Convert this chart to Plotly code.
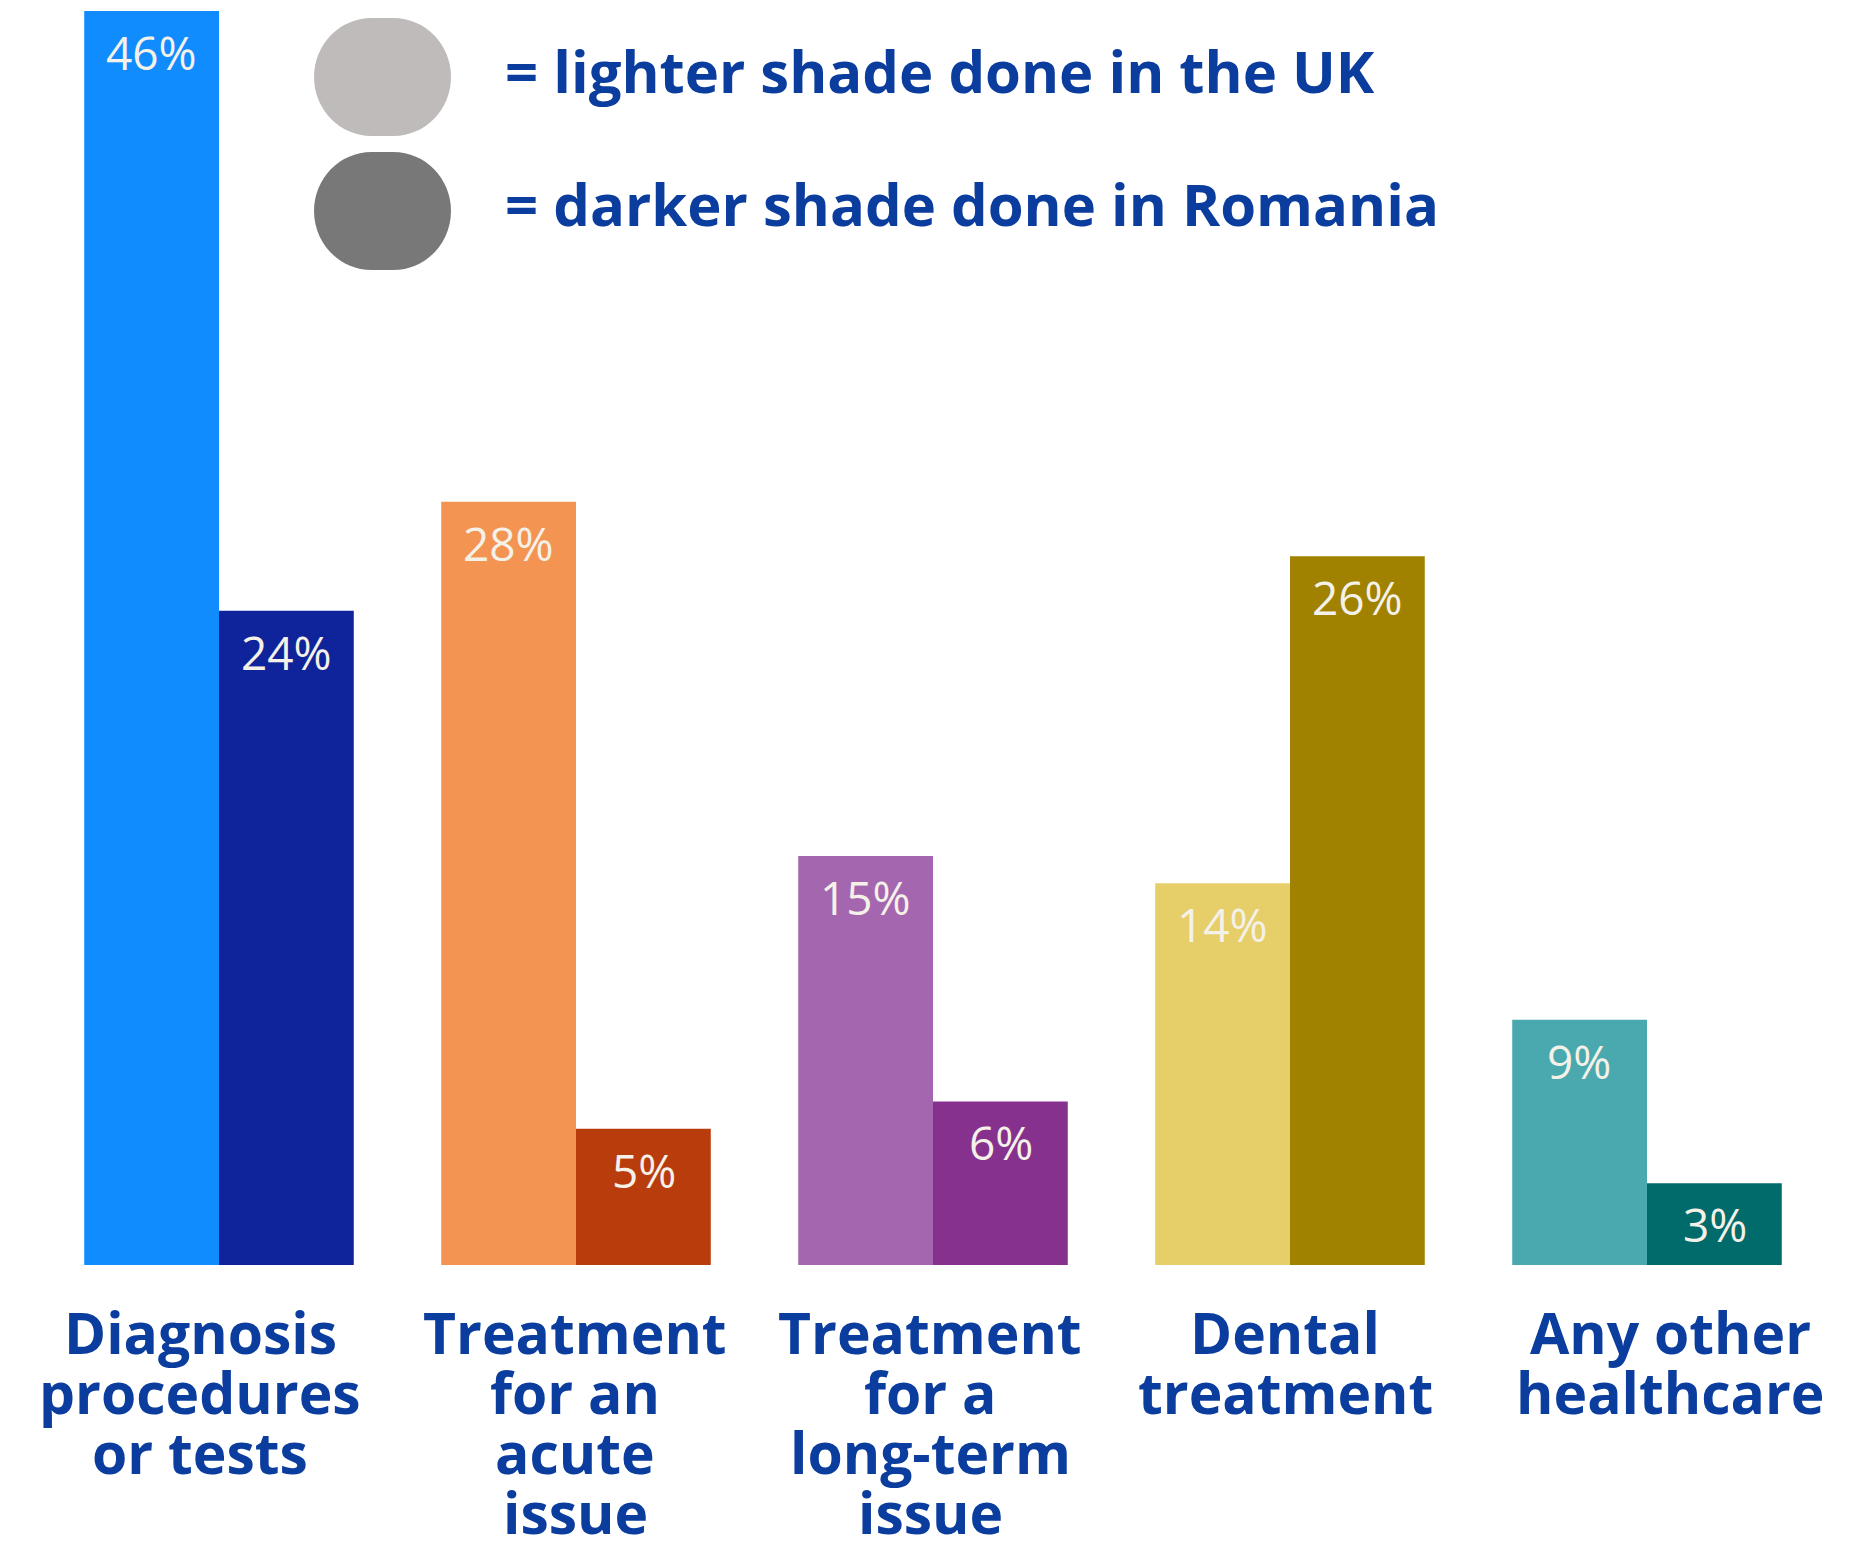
import plotly.graph_objects as go

# --- data -------------------------------------------------------------
category_lines = [
    ["Diagnosis", "procedures", "or tests"],
    ["Treatment", "for an", "acute", "issue"],
    ["Treatment", "for a", "long-term", "issue"],
    ["Dental", "treatment"],
    ["Any other", "healthcare"],
]
categories = [" ".join(lines) for lines in category_lines]

uk_values = [46, 28, 15, 14, 9]
romania_values = [24, 5, 6, 26, 3]

uk_colors = ["#118cff", "#f39453", "#a466ae", "#e6ce69", "#4aa9af"]
romania_colors = ["#0f239a", "#b93c0c", "#87318e", "#a08100", "#016a6b"]

legend_labels = ["= lighter shade done in the UK", "= darker shade done in Romania"]
legend_colors = ["#bfbbba", "#787878"]

# --- layout constants ---------------------------------------------------
W, H = 1858, 1541
M_L, M_R, M_T, M_B = 37, 32, 0, 276
PLOT_W = W - M_L - M_R
PLOT_H = H - M_T - M_B
BARGAP = 0.245
Y_MAX = 46.4

BLUE = "#0b3d9e"
LABEL_FONT = "Open Sans"
VALUE_COLOR = "#f4f1e8"

cat_w = PLOT_W / len(categories)
bar_w = cat_w * (1 - BARGAP) / 2
label_nudge = [-19, -1, -3, -5, 23]

fig = go.Figure()
fig.add_trace(go.Bar(
    x=categories, y=uk_values, name="UK",
    marker=dict(color=uk_colors, line=dict(width=0)),
    hoverinfo="skip",
))
fig.add_trace(go.Bar(
    x=categories, y=romania_values, name="Romania",
    marker=dict(color=romania_colors, line=dict(width=0)),
    hoverinfo="skip",
))

annotations = []

# percentage labels near the top of each bar
for vals, side in ((uk_values, -1), (romania_values, 1)):
    for cat, v in zip(categories, vals):
        annotations.append(dict(
            x=cat, y=v, xref="x", yref="y",
            xshift=side * bar_w / 2, yshift=-41,
            text=f"{v}%", showarrow=False,
            xanchor="center", yanchor="middle",
            font=dict(family=LABEL_FONT, size=46, color=VALUE_COLOR),
        ))

# category names under the bars, one line at a time for tight leading
for cat, lines, nudge in zip(categories, category_lines, label_nudge):
    for i, line in enumerate(lines):
        annotations.append(dict(
            x=cat, y=0, xref="x", yref="y",
            xshift=nudge, yshift=-67 - 60 * i,
            text=f"<b>{line}</b>", showarrow=False,
            xanchor="center", yanchor="middle",
            font=dict(family=LABEL_FONT, size=57, color=BLUE),
        ))


def to_paper_x(px):
    return (px - M_L) / PLOT_W


def to_paper_y(py):
    return (M_T + PLOT_H - py) / PLOT_H


def rounded_box(x0, y0, x1, y1, fx=0.42, fy=0.5):
    """Rounded-rectangle SVG path (pixel box -> paper coords)."""
    rx = (x1 - x0) * fx
    ry = (y1 - y0) * fy
    k = 0.5523

    def p(x, y):
        return f"{to_paper_x(x):.5f},{to_paper_y(y):.5f}"

    parts = [
        f"M {p(x0 + rx, y0)}",
        f"L {p(x1 - rx, y0)}",
        f"C {p(x1 - rx + k * rx, y0)} {p(x1, y0 + ry - k * ry)} {p(x1, y0 + ry)}",
        f"L {p(x1, y1 - ry)}",
        f"C {p(x1, y1 - ry + k * ry)} {p(x1 - rx + k * rx, y1)} {p(x1 - rx, y1)}",
        f"L {p(x0 + rx, y1)}",
        f"C {p(x0 + rx - k * rx, y1)} {p(x0, y1 - ry + k * ry)} {p(x0, y1 - ry)}",
        f"L {p(x0, y0 + ry)}",
        f"C {p(x0, y0 + ry - k * ry)} {p(x0 + rx - k * rx, y0)} {p(x0 + rx, y0)}",
        "Z",
    ]
    return " ".join(parts)


shapes = []
legend_boxes = [(314, 18, 451, 136), (314, 152, 451, 270)]
for (bx0, by0, bx1, by1), color, label in zip(legend_boxes, legend_colors, legend_labels):
    shapes.append(dict(
        type="path", xref="paper", yref="paper",
        path=rounded_box(bx0, by0, bx1, by1),
        fillcolor=color, line=dict(width=0), layer="above",
    ))
    annotations.append(dict(
        x=to_paper_x(503), y=to_paper_y((by0 + by1) / 2 - 7),
        xref="paper", yref="paper",
        text=f"<b>{label}</b>", showarrow=False,
        xanchor="left", yanchor="middle",
        font=dict(family=LABEL_FONT, size=58, color=BLUE),
    ))

fig.update_layout(
    width=W, height=H,
    margin=dict(l=M_L, r=M_R, t=M_T, b=M_B, pad=0),
    paper_bgcolor="white", plot_bgcolor="white",
    barmode="group", bargap=BARGAP, bargroupgap=0,
    showlegend=False,
    xaxis=dict(showticklabels=False, showgrid=False, zeroline=False,
               showline=False, ticks="", fixedrange=True),
    yaxis=dict(range=[0, Y_MAX], visible=False, showgrid=False,
               zeroline=False, fixedrange=True),
    annotations=annotations,
    shapes=shapes,
)

fig.write_html("out.html", config={"displayModeBar": False})
